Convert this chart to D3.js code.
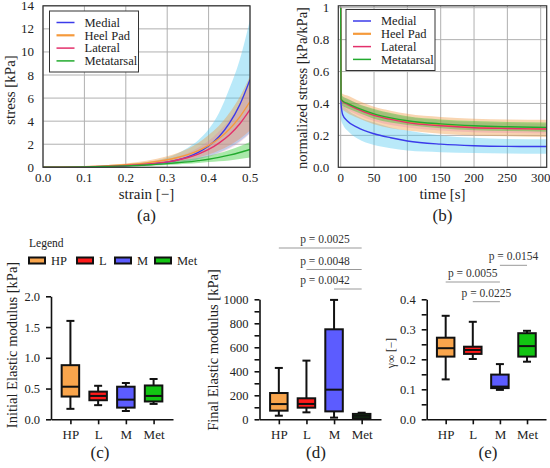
<!DOCTYPE html>
<html>
<head>
<meta charset="utf-8">
<script src="https://cdn.jsdelivr.net/npm/d3@7"></script>
<style>
  body { margin: 0; background: #fff; }
  svg text { font-family: "Liberation Serif", "DejaVu Serif", serif; fill: #222; }
</style>
</head>
<body>
<div id="chart"></div>
<script>
// ---- data ----
var regions = ["Medial", "Heel Pad", "Lateral", "Metatarsal"];
var regionColors = ["#3b3bea", "#f59a3c", "#e3306b", "#22aa2e"];
var bandColors = ["rgba(80,200,240,0.4)", "rgba(240,150,60,0.4)", "rgba(225,110,170,0.25)", "rgba(40,200,40,0.4)"];

// (a) stress [kPa] vs strain
var strain = [0, 0.05, 0.1, 0.15, 0.2, 0.25, 0.3, 0.325, 0.35, 0.375, 0.4, 0.425, 0.45, 0.475, 0.5];
var medialStress   = [0, 0.01, 0.03, 0.07, 0.13, 0.25, 0.45, 0.63, 0.9, 1.3, 1.85, 2.65, 3.8, 5.4, 7.6];
var medialStressLo = [0, 0.01, 0.02, 0.04, 0.08, 0.15, 0.28, 0.37, 0.5, 0.69, 0.95, 1.28, 1.7, 2.25, 3.0];
var medialStressHi = [0, 0.02, 0.06, 0.13, 0.25, 0.45, 0.85, 1.2, 1.7, 2.35, 3.3, 4.7, 6.8, 9.3, 12.8];
var heelStress   = [0, 0.02, 0.06, 0.12, 0.22, 0.38, 0.65, 0.85, 1.1, 1.45, 1.9, 2.5, 3.3, 4.35, 5.7];
var heelStressLo = [0, 0.01, 0.04, 0.07, 0.13, 0.22, 0.38, 0.5, 0.65, 0.85, 1.1, 1.45, 1.9, 2.45, 3.2];
var heelStressHi = [0, 0.03, 0.09, 0.18, 0.33, 0.56, 0.95, 1.23, 1.6, 2.1, 2.8, 3.6, 4.7, 6.1, 7.9];
var lateralStress   = [0, 0.01, 0.04, 0.08, 0.15, 0.27, 0.47, 0.63, 0.85, 1.15, 1.55, 2.1, 2.8, 3.75, 5.0];
var lateralStressLo = [0, 0.01, 0.02, 0.05, 0.09, 0.16, 0.28, 0.38, 0.5, 0.67, 0.9, 1.2, 1.6, 2.15, 2.9];
var lateralStressHi = [0, 0.02, 0.06, 0.12, 0.22, 0.4, 0.7, 0.94, 1.25, 1.7, 2.3, 3.1, 4.1, 5.5, 7.3];
var metaStress   = [0, 0.01, 0.03, 0.07, 0.12, 0.2, 0.32, 0.39, 0.47, 0.58, 0.7, 0.86, 1.05, 1.28, 1.55];
var metaStressLo = [0, 0.01, 0.02, 0.04, 0.07, 0.12, 0.2, 0.25, 0.3, 0.37, 0.45, 0.52, 0.6, 0.72, 0.85];
var metaStressHi = [0, 0.02, 0.05, 0.1, 0.18, 0.29, 0.46, 0.56, 0.68, 0.83, 1.0, 1.22, 1.5, 1.82, 2.2];
var strainTicks = [0, 0.1, 0.2, 0.3, 0.4, 0.5];
var stressTicks = [0, 2, 4, 6, 8, 10, 12, 14];

// (b) normalized stress vs time [s]
var time = [0, 0.5, 3, 10, 25, 50, 75, 100, 150, 200, 250, 310];
var medialRelax   = [1, 0.40, 0.33, 0.29, 0.25, 0.21, 0.185, 0.165, 0.145, 0.135, 0.131, 0.13];
var medialRelaxLo = [1, 0.30, 0.27, 0.23, 0.18, 0.14, 0.12, 0.105, 0.095, 0.09, 0.087, 0.085];
var medialRelaxHi = [1, 0.45, 0.39, 0.36, 0.32, 0.28, 0.25, 0.23, 0.2, 0.185, 0.178, 0.175];
var heelRelax   = [1, 0.43, 0.415, 0.40, 0.37, 0.33, 0.305, 0.285, 0.265, 0.25, 0.245, 0.24];
var heelRelaxLo = [1, 0.37, 0.36, 0.34, 0.31, 0.27, 0.245, 0.23, 0.21, 0.2, 0.195, 0.19];
var heelRelaxHi = [1, 0.47, 0.46, 0.45, 0.42, 0.38, 0.355, 0.335, 0.315, 0.305, 0.3, 0.298];
var lateralRelax   = [1, 0.425, 0.41, 0.395, 0.365, 0.325, 0.3, 0.28, 0.26, 0.248, 0.243, 0.24];
var lateralRelaxLo = [1, 0.39, 0.38, 0.36, 0.33, 0.29, 0.265, 0.25, 0.23, 0.22, 0.215, 0.212];
var lateralRelaxHi = [1, 0.45, 0.44, 0.43, 0.40, 0.36, 0.335, 0.315, 0.295, 0.282, 0.276, 0.272];
var metaRelax   = [1, 0.43, 0.415, 0.40, 0.372, 0.335, 0.31, 0.292, 0.272, 0.26, 0.254, 0.25];
var metaRelaxLo = [1, 0.40, 0.385, 0.37, 0.345, 0.305, 0.28, 0.265, 0.245, 0.232, 0.227, 0.223];
var metaRelaxHi = [1, 0.46, 0.445, 0.43, 0.40, 0.365, 0.34, 0.32, 0.3, 0.29, 0.284, 0.28];
var timeTicks = [0, 50, 100, 150, 200, 250, 300];
var relaxTicks = [0, 0.2, 0.4, 0.6, 0.8, 1];

// (c)-(e) box plots: [min, q1, median, q3, max] per group
var groups = ["HP", "L", "M", "Met"];
var groupColors = ["#f9a54c", "#ff1a1a", "#5c5cff", "#12c412"];
var initialModulus = [[0.17, 0.37, 0.53, 0.88, 1.6], [0.23, 0.31, 0.38, 0.45, 0.545], [0.135, 0.19, 0.32, 0.53, 0.59], [0.25, 0.29, 0.38, 0.55, 0.655]];
var finalModulus = [[30, 72, 127, 219, 428], [58, 97, 128, 175, 489], [14, 66, 247, 750, 995], [5, 10, 28, 45, 55]];
var gammaInf = [[0.133, 0.209, 0.237, 0.272, 0.345], [0.201, 0.218, 0.231, 0.242, 0.325], [0.098, 0.104, 0.109, 0.149, 0.184], [0.192, 0.209, 0.244, 0.287, 0.295]];
var finalComparisons = [["HP", "Met", "p = 0.0025"], ["L", "Met", "p = 0.0048"], ["M", "Met", "p = 0.0042"]];
var gammaComparisons = [["M", "Met", "p = 0.0154"], ["HP", "M", "p = 0.0055"], ["L", "M", "p = 0.0225"]];

var svg = d3.select("#chart").append("svg")
  .attr("width", 550)
  .attr("height", 468);

// ---- curve panels ----
function curvePanel(opt) {
  var g = svg.append("g");
  var x = d3.scaleLinear().domain(opt.xDomain).range(opt.xRange);
  var y = d3.scaleLinear().domain(opt.yDomain).range(opt.yRange);

  g.selectAll("line.vgrid")
    .data(opt.xTicks)
    .enter().append("line")
      .attr("x1", function(d){ return x(d); })
      .attr("x2", function(d){ return x(d); })
      .attr("y1", opt.yRange[0])
      .attr("y2", opt.yRange[1])
      .style("stroke", "#b0b0b0")
      .style("stroke-width", 1);

  g.selectAll("line.hgrid")
    .data(opt.yTicks)
    .enter().append("line")
      .attr("x1", opt.xRange[0])
      .attr("x2", opt.xRange[1])
      .attr("y1", function(d){ return y(d); })
      .attr("y2", function(d){ return y(d); })
      .style("stroke", "#b0b0b0")
      .style("stroke-width", 1);

  var clipId = "clip" + opt.name;
  g.append("clipPath").attr("id", clipId)
    .append("rect")
      .attr("x", opt.xRange[0]).attr("y", opt.yRange[1])
      .attr("width", opt.xRange[1] - opt.xRange[0])
      .attr("height", opt.yRange[0] - opt.yRange[1]);

  var plot = g.append("g").attr("clip-path", "url(#" + clipId + ")");

  var area = d3.area()
    .x(function(d){ return x(d[0]); })
    .y0(function(d){ return y(d[1]); })
    .y1(function(d){ return y(d[2]); })
    .curve(d3.curveMonotoneX);

  var line = d3.line()
    .x(function(d){ return x(d[0]); })
    .y(function(d){ return y(d[1]); })
    .curve(d3.curveMonotoneX);

  opt.series.forEach(function(s, i){
    plot.append("path")
      .datum(opt.xs.map(function(v, k){ return [v, s.lo[k], s.hi[k]]; }))
      .attr("d", area)
      .style("fill", bandColors[i])
      .style("stroke", "none");
  });
  opt.series.forEach(function(s, i){
    plot.append("path")
      .datum(opt.xs.map(function(v, k){ return [v, s.mean[k]]; }))
      .attr("d", line)
      .style("fill", "none")
      .style("stroke", regionColors[i])
      .style("stroke-width", 1.4);
  });

  // frame
  g.append("rect")
    .attr("x", opt.xRange[0]).attr("y", opt.yRange[1])
    .attr("width", opt.xRange[1] - opt.xRange[0])
    .attr("height", opt.yRange[0] - opt.yRange[1])
    .style("fill", "none")
    .style("stroke", "#333")
    .style("stroke-width", 1.2);

  g.selectAll("text.xt")
    .data(opt.xTicks)
    .enter().append("text")
      .attr("x", function(d){ return x(d); })
      .attr("y", 182)
      .attr("text-anchor", "middle")
      .style("font-size", "13px")
      .text(opt.xFormat);

  g.selectAll("text.yt")
    .data(opt.yTicks)
    .enter().append("text")
      .attr("x", opt.xRange[0] - 9)
      .attr("y", function(d){ return y(d) + 4.5; })
      .attr("text-anchor", "end")
      .style("font-size", "13px")
      .text(opt.yFormat);

  var cx = (opt.xRange[0] + opt.xRange[1]) / 2;
  g.append("text")
    .attr("x", cx).attr("y", 199)
    .attr("text-anchor", "middle")
    .style("font-size", "15px")
    .text(opt.xLabel);
  g.append("text")
    .attr("transform", "translate(" + opt.yLabelX + "," + opt.yLabelY + ") rotate(-90)")
    .attr("text-anchor", "middle")
    .style("font-size", opt.yLabelSize)
    .text(opt.yLabel);
  g.append("text")
    .attr("x", cx).attr("y", 221)
    .attr("text-anchor", "middle")
    .style("font-size", "17px")
    .text(opt.tag);

  // legend
  var lg = g.append("g").attr("transform", "translate(" + opt.legend[0] + "," + opt.legend[1] + ")");
  lg.append("rect")
    .attr("width", 89).attr("height", 61)
    .style("fill", "#fff")
    .style("stroke", "#333")
    .style("stroke-width", 1);
  regions.forEach(function(r, i){
    var yy = 11.5 + i * 12.8;
    lg.append("line")
      .attr("x1", 7).attr("x2", 25)
      .attr("y1", yy).attr("y2", yy)
      .style("stroke", regionColors[i])
      .style("stroke-width", i == 1 ? 2.2 : 1.5);
    lg.append("text")
      .attr("x", 35).attr("y", yy + 4.3)
      .style("font-size", "12.5px")
      .text(r);
  });
}

curvePanel({
  name: "a",
  xs: strain,
  xDomain: [0, 0.5], xRange: [43, 250],
  yDomain: [0, 14], yRange: [167.3, 5.8],
  xTicks: strainTicks, yTicks: stressTicks,
  xFormat: d3.format(".1f"), yFormat: function(d){ return d; },
  series: [
    {mean: medialStress, lo: medialStressLo, hi: medialStressHi},
    {mean: heelStress, lo: heelStressLo, hi: heelStressHi},
    {mean: lateralStress, lo: lateralStressLo, hi: lateralStressHi},
    {mean: metaStress, lo: metaStressLo, hi: metaStressHi}
  ],
  xLabel: "strain [\u2212]", yLabel: "stress [kPa]",
  yLabelX: 15, yLabelY: 90, yLabelSize: "15px",
  tag: "(a)", legend: [49.5, 11]
});

curvePanel({
  name: "b",
  xs: time,
  xDomain: [-3.6, 309], xRange: [338.3, 546.7],
  yDomain: [0, 1.012], yRange: [167.3, 5.8],
  xTicks: timeTicks, yTicks: relaxTicks,
  xFormat: function(d){ return d; },
  yFormat: function(d){ return d == 1 ? "1" : d3.format(".1f")(d); },
  series: [
    {mean: medialRelax, lo: medialRelaxLo, hi: medialRelaxHi},
    {mean: heelRelax, lo: heelRelaxLo, hi: heelRelaxHi},
    {mean: lateralRelax, lo: lateralRelaxLo, hi: lateralRelaxHi},
    {mean: metaRelax, lo: metaRelaxLo, hi: metaRelaxHi}
  ],
  xLabel: "time [s]", yLabel: "normalized stress [kPa/kPa]",
  yLabelX: 307, yLabelY: 88, yLabelSize: "14.5px",
  tag: "(b)", legend: [346, 9.5]
});

// ---- box plot panels ----
function boxPanel(opt) {
  var g = svg.append("g");
  var x = d3.scalePoint().domain(groups).range(opt.xRange).padding(0.7);
  var y = d3.scaleLinear().domain(opt.yDomain).range(opt.yRange);
  var bw = 17.5, cap = 8;

  var yAxis = d3.axisLeft(y)
    .tickValues(opt.yTicks)
    .tickFormat(opt.yFormat)
    .tickSize(5)
    .tickSizeOuter(0)
    .tickPadding(6);
  var ya = g.append("g")
    .attr("transform", "translate(" + opt.xRange[0] + ",0)")
    .call(yAxis);
  ya.selectAll("text").style("font-size", "12.5px").style("font-family", "Liberation Serif");
  ya.selectAll("line, path").style("stroke", "#111").style("stroke-width", 1.6);

  var xAxis = d3.axisBottom(x).tickSize(5).tickSizeOuter(0).tickPadding(5);
  var xa = g.append("g")
    .attr("transform", "translate(0," + opt.yRange[0] + ")")
    .call(xAxis);
  xa.selectAll("text").style("font-size", "13px").style("font-family", "Liberation Serif");
  xa.selectAll("line, path").style("stroke", "#111").style("stroke-width", 1.6);

  var box = g.selectAll("g.box")
    .data(opt.values)
    .enter().append("g")
      .attr("transform", function(d, i){ return "translate(" + x(groups[i]) + ",0)"; });

  box.append("line")
    .attr("y1", function(d){ return y(d[0]); })
    .attr("y2", function(d){ return y(d[4]); })
    .style("stroke", "#111").style("stroke-width", 2);
  box.append("line")
    .attr("x1", -cap / 2).attr("x2", cap / 2)
    .attr("y1", function(d){ return y(d[4]); })
    .attr("y2", function(d){ return y(d[4]); })
    .style("stroke", "#111").style("stroke-width", 2);
  box.append("line")
    .attr("x1", -cap / 2).attr("x2", cap / 2)
    .attr("y1", function(d){ return y(d[0]); })
    .attr("y2", function(d){ return y(d[0]); })
    .style("stroke", "#111").style("stroke-width", 2);
  box.append("rect")
    .attr("x", -bw / 2).attr("width", bw)
    .attr("y", function(d){ return y(d[3]); })
    .attr("height", function(d){ return y(d[1]) - y(d[3]); })
    .style("fill", function(d, i){ return groupColors[i]; })
    .style("stroke", "#111").style("stroke-width", 2);
  box.append("line")
    .attr("x1", -bw / 2).attr("x2", bw / 2)
    .attr("y1", function(d){ return y(d[2]); })
    .attr("y2", function(d){ return y(d[2]); })
    .style("stroke", "#111").style("stroke-width", 2);

  // significance brackets
  (opt.comparisons || []).forEach(function(c, i){
    var ly = opt.compY[i];
    g.append("line")
      .attr("x1", x(c[0])).attr("x2", x(c[1]))
      .attr("y1", ly).attr("y2", ly)
      .style("stroke", "#999").style("stroke-width", 1);
    g.append("text")
      .attr("x", opt.compTextX ? opt.compTextX : (x(c[0]) + x(c[1])) / 2)
      .attr("y", ly - 5)
      .attr("text-anchor", "middle")
      .style("font-size", "11.5px")
      .style("fill", "#333")
      .text(c[2]);
  });

  g.append("text")
    .attr("transform", "translate(" + opt.yLabelX + "," + opt.yLabelY + ") rotate(-90)")
    .attr("text-anchor", "middle")
    .style("font-size", opt.yLabelSize)
    .text(opt.yLabel);
  g.append("text")
    .attr("x", opt.tagX).attr("y", 458)
    .attr("text-anchor", "middle")
    .style("font-size", "17px")
    .text(opt.tag);
}

boxPanel({
  xRange: [51, 173], yDomain: [0, 2], yRange: [419.3, 296.3],
  yTicks: [0, 0.5, 1, 1.5, 2], yFormat: d3.format(".1f"),
  values: initialModulus,
  yLabel: "Initial Elastic modulus [kPa]", yLabelX: 17, yLabelY: 345, yLabelSize: "14.5px",
  tag: "(c)", tagX: 100
});

boxPanel({
  xRange: [259.5, 381], yDomain: [0, 1000], yRange: [419.3, 299.3],
  yTicks: d3.range(0, 1001, 100),
  yFormat: function(d){ return d % 200 == 0 ? d : ""; },
  values: finalModulus,
  comparisons: finalComparisons, compY: [248, 269.5, 289], compTextX: 325,
  yLabel: "Final Elastic modulus [kPa]", yLabelX: 218, yLabelY: 350, yLabelSize: "14.5px",
  tag: "(d)", tagX: 316
});

boxPanel({
  xRange: [426.7, 546], yDomain: [0, 0.4], yRange: [419.3, 299.3],
  yTicks: d3.range(0, 9).map(function(i){ return i * 0.05; }),
  yFormat: function(d, i){ return i % 2 == 0 ? d3.format(".1f")(d) : ""; },
  values: gammaInf,
  comparisons: gammaComparisons, compY: [265.3, 282, 301.7],
  yLabel: "\u03b3\u221e [\u2212]", yLabelX: 395, yLabelY: 353, yLabelSize: "11.5px",
  tag: "(e)", tagX: 488
});

// legend for the box plots
var bl = svg.append("g");
bl.append("text")
  .attr("x", 29).attr("y", 247)
  .style("font-size", "11.5px")
  .text("Legend");
var legendX = [29, 77, 115, 155];
groups.forEach(function(grp, i){
  bl.append("rect")
    .attr("x", legendX[i]).attr("y", 257.5)
    .attr("width", 16).attr("height", 6)
    .style("fill", groupColors[i])
    .style("stroke", "#111").style("stroke-width", 2);
  bl.append("text")
    .attr("x", legendX[i] + 22).attr("y", 265)
    .style("font-size", "12.5px")
    .text(grp);
});
</script>
</body>
</html>
